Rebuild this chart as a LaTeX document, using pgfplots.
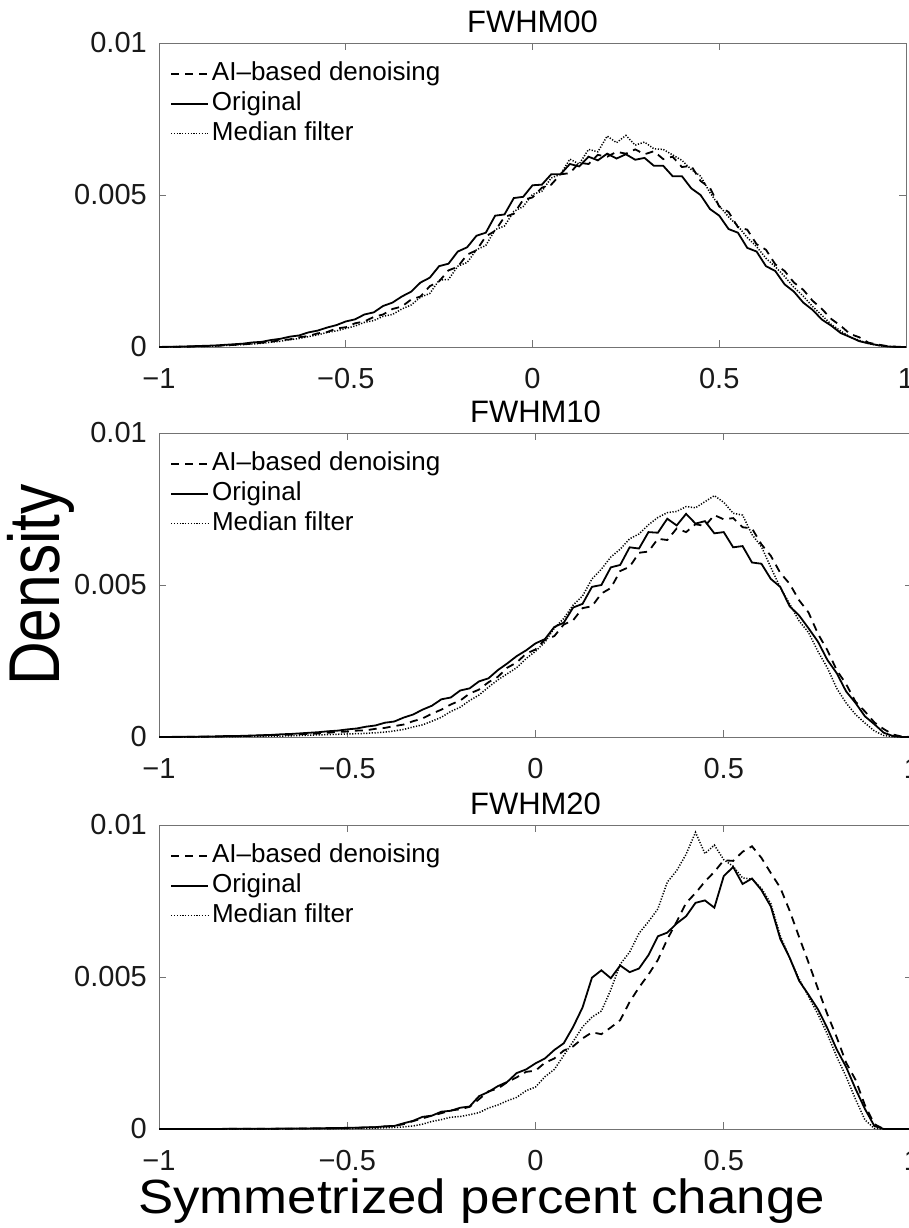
\documentclass[border=0pt]{standalone}
\usepackage{fontspec}
\setmainfont{Liberation Sans}
\usepackage{pgfplots}
\pgfplotsset{compat=1.18}
\usepackage{pgfplotstable}

% densities in units of 1e-3 (tick labels give the real values)
% columns: x, o = Original, a = AI-based denoising, m = Median filter
\pgfplotstableread{
x o a m
-1.000 0.00 0.00 0.00
-0.975 0.01 0.00 0.00
-0.950 0.01 0.01 0.01
-0.925 0.02 0.01 0.01
-0.900 0.03 0.02 0.02
-0.875 0.04 0.03 0.02
-0.850 0.05 0.04 0.03
-0.825 0.07 0.05 0.05
-0.800 0.09 0.07 0.06
-0.775 0.11 0.09 0.08
-0.750 0.15 0.11 0.10
-0.725 0.17 0.14 0.12
-0.700 0.23 0.17 0.16
-0.675 0.27 0.23 0.19
-0.650 0.34 0.25 0.24
-0.625 0.38 0.32 0.28
-0.600 0.48 0.36 0.34
-0.575 0.54 0.45 0.40
-0.550 0.64 0.49 0.48
-0.525 0.72 0.61 0.53
-0.500 0.84 0.65 0.61
-0.475 0.91 0.78 0.69
-0.450 1.07 0.84 0.81
-0.425 1.14 0.99 0.87
-0.400 1.35 1.07 1.01
-0.375 1.46 1.25 1.07
-0.350 1.66 1.33 1.25
-0.325 1.82 1.56 1.38
-0.300 2.12 1.66 1.64
-0.275 2.28 2.00 1.76
-0.250 2.66 2.16 2.20
-0.225 2.74 2.52 2.22
-0.200 3.14 2.64 2.66
-0.175 3.28 3.04 2.78
-0.150 3.66 3.18 3.20
-0.125 3.76 3.64 3.34
-0.100 4.32 3.82 3.86
-0.075 4.36 4.28 3.98
-0.050 4.90 4.38 4.46
-0.025 4.94 4.84 4.62
0.000 5.32 4.92 5.02
0.025 5.34 5.24 5.12
0.050 5.68 5.34 5.56
0.075 5.68 5.68 5.68
0.100 6.02 5.72 6.18
0.125 5.94 6.06 6.02
0.150 6.26 6.02 6.50
0.175 6.14 6.32 6.42
0.200 6.36 6.26 6.94
0.225 6.20 6.42 6.72
0.250 6.34 6.36 6.96
0.275 6.16 6.50 6.64
0.300 6.22 6.34 6.74
0.325 5.96 6.44 6.52
0.350 5.96 6.18 6.50
0.375 5.62 6.26 6.32
0.400 5.62 5.92 6.14
0.425 5.22 5.96 5.84
0.450 5.00 5.46 5.62
0.475 4.54 5.24 5.08
0.500 4.32 4.62 4.64
0.525 3.88 4.44 4.28
0.550 3.76 3.94 3.98
0.575 3.26 3.86 3.60
0.600 3.14 3.38 3.30
0.625 2.66 3.20 2.92
0.650 2.50 2.72 2.64
0.675 2.06 2.50 2.32
0.700 1.82 2.12 1.96
0.725 1.46 1.88 1.67
0.750 1.22 1.52 1.33
0.775 0.90 1.25 1.04
0.800 0.70 0.92 0.74
0.825 0.46 0.70 0.53
0.850 0.33 0.43 0.33
0.875 0.19 0.32 0.22
0.900 0.12 0.14 0.11
0.925 0.06 0.08 0.05
0.950 0.02 0.03 0.02
0.975 0.00 0.01 0.00
1.000 0.00 0.00 0.00
}\fwhmA

\pgfplotstableread{
x o a m
-1.000 0.00 0.00 0.00
-0.975 0.00 0.00 0.00
-0.950 0.01 0.00 0.00
-0.925 0.01 0.01 0.00
-0.900 0.01 0.01 0.00
-0.875 0.02 0.01 0.01
-0.850 0.02 0.02 0.01
-0.825 0.03 0.02 0.01
-0.800 0.03 0.03 0.01
-0.775 0.04 0.03 0.02
-0.750 0.05 0.04 0.02
-0.725 0.06 0.05 0.02
-0.700 0.07 0.06 0.03
-0.675 0.09 0.07 0.03
-0.650 0.10 0.08 0.04
-0.625 0.12 0.09 0.05
-0.600 0.14 0.10 0.06
-0.575 0.16 0.12 0.07
-0.550 0.19 0.14 0.08
-0.525 0.21 0.17 0.09
-0.500 0.25 0.18 0.10
-0.475 0.28 0.21 0.11
-0.450 0.34 0.22 0.12
-0.425 0.38 0.27 0.14
-0.400 0.47 0.30 0.16
-0.375 0.51 0.36 0.20
-0.350 0.64 0.41 0.25
-0.325 0.74 0.52 0.33
-0.300 0.90 0.61 0.40
-0.275 1.03 0.77 0.52
-0.250 1.24 0.90 0.65
-0.225 1.30 1.07 0.84
-0.200 1.53 1.20 0.98
-0.175 1.60 1.43 1.20
-0.150 1.83 1.56 1.38
-0.125 1.93 1.80 1.64
-0.100 2.20 1.98 1.88
-0.075 2.42 2.28 2.08
-0.050 2.66 2.45 2.28
-0.025 2.85 2.74 2.58
0.000 3.08 2.88 2.82
0.025 3.22 3.20 3.12
0.050 3.62 3.32 3.58
0.075 3.76 3.70 3.90
0.100 4.26 3.84 4.34
0.125 4.38 4.24 4.64
0.150 4.94 4.30 5.20
0.175 5.00 4.72 5.52
0.200 5.58 4.90 5.92
0.225 5.66 5.46 6.18
0.250 6.24 5.60 6.52
0.275 6.20 6.06 6.68
0.300 6.74 6.10 6.98
0.325 6.72 6.52 7.22
0.350 7.18 6.48 7.38
0.375 6.96 6.86 7.42
0.400 7.34 6.74 7.58
0.425 7.02 7.00 7.54
0.450 7.10 6.94 7.74
0.475 6.70 7.30 7.94
0.500 6.74 7.16 7.72
0.525 6.24 7.20 7.36
0.550 6.28 6.90 7.30
0.575 5.74 6.86 6.66
0.600 5.70 6.34 6.26
0.625 5.20 5.96 5.58
0.650 4.94 5.40 4.92
0.675 4.30 5.04 4.38
0.700 4.00 4.50 3.82
0.725 3.58 4.10 3.44
0.750 3.14 3.40 2.82
0.775 2.54 2.86 2.28
0.800 2.10 2.20 1.60
0.825 1.50 1.74 1.12
0.850 1.12 1.16 0.74
0.875 0.68 0.84 0.46
0.900 0.42 0.48 0.20
0.925 0.14 0.26 0.05
0.950 0.03 0.08 0.01
0.975 0.00 0.01 0.00
1.000 0.00 0.00 0.00
}\fwhmB

\pgfplotstableread{
x o a m
-1.000 0.00 0.00 0.00
-0.950 0.00 0.00 0.00
-0.900 0.00 0.00 0.00
-0.850 0.00 0.00 0.00
-0.800 0.01 0.01 0.00
-0.750 0.01 0.01 0.00
-0.700 0.01 0.01 0.00
-0.650 0.02 0.01 0.01
-0.600 0.02 0.02 0.01
-0.550 0.03 0.02 0.01
-0.525 0.03 0.03 0.01
-0.500 0.04 0.03 0.01
-0.475 0.04 0.04 0.02
-0.450 0.06 0.05 0.02
-0.425 0.06 0.06 0.03
-0.400 0.09 0.08 0.04
-0.375 0.10 0.10 0.05
-0.350 0.19 0.16 0.07
-0.325 0.27 0.26 0.10
-0.300 0.40 0.35 0.16
-0.275 0.44 0.44 0.25
-0.250 0.57 0.52 0.31
-0.225 0.60 0.61 0.39
-0.200 0.70 0.65 0.41
-0.175 0.74 0.73 0.47
-0.150 1.08 0.98 0.54
-0.125 1.22 1.24 0.69
-0.100 1.41 1.33 0.79
-0.075 1.55 1.54 0.93
-0.050 1.84 1.70 1.04
-0.025 1.96 1.88 1.26
0.000 2.16 1.92 1.38
0.025 2.32 2.18 1.72
0.050 2.60 2.32 1.96
0.075 2.82 2.58 2.42
0.100 3.36 2.72 2.88
0.125 4.00 2.98 3.36
0.150 4.98 3.18 3.68
0.175 5.22 3.12 3.88
0.200 4.96 3.34 4.58
0.225 5.38 3.58 5.42
0.250 5.16 4.18 5.82
0.275 5.28 4.66 6.44
0.300 5.72 5.08 6.82
0.325 6.34 5.56 7.24
0.350 6.46 6.24 8.12
0.375 6.76 6.82 8.50
0.400 7.00 7.44 9.04
0.425 7.44 7.76 9.76
0.450 7.52 8.14 9.06
0.475 7.28 8.46 9.34
0.500 8.32 8.84 8.86
0.525 8.62 8.82 8.64
0.550 8.06 9.12 8.26
0.575 8.24 9.30 8.22
0.600 7.86 8.92 7.92
0.625 7.32 8.42 7.42
0.650 6.26 7.94 6.36
0.675 5.64 7.18 5.62
0.700 4.88 6.32 4.94
0.725 4.42 5.48 4.36
0.750 3.94 4.62 3.78
0.775 3.32 3.78 3.12
0.800 2.62 3.02 2.38
0.825 2.04 2.18 1.72
0.850 1.32 1.62 0.98
0.875 0.66 0.78 0.30
0.900 0.10 0.16 0.02
0.925 0.00 0.00 0.00
0.950 0.00 0.00 0.00
1.000 0.00 0.00 0.00
}\fwhmC

\pgfplotsset{
  panel/.style={
    scale only axis, height=304bp,
    anchor=north west,
    xmin=-1, xmax=1, ymin=0, ymax=10,
    xtick={-1,-0.5,0,0.5,1},
    xticklabels={−1,−0.5,0,0.5,1},
    ytick={0,5,10},
    yticklabels={0,0.005,0.01},
    tick align=inside,
    major tick length=7bp,
    axis line style={black!55, line width=0.9bp},
    every tick/.style={black!55, line width=0.9bp},
    tick label style={font=\fontsize{29bp}{33bp}\selectfont, text=black!90},
    xticklabel style={anchor=base, inner sep=0pt, yshift=-41bp},
    yticklabel style={anchor=east, inner sep=0pt, xshift=-12bp},
    title style={at={(0.5,1)}, anchor=base, yshift=5bp, inner sep=0pt,
      font=\fontsize{31bp}{34bp}\selectfont},
    legend cell align=left,
    legend image code/.code={\draw[##1] (0bp,0bp) -- (37bp,0bp);},
    legend style={draw=none, fill=none, at={(0.0147,0.941)}, anchor=north west,
      inner sep=0pt, row sep=5bp, column sep=3bp,
      font=\fontsize{26bp}{30bp}\selectfont,
      nodes={inner sep=0pt, text height=19bp, text depth=6bp}},
  },
  ai/.style={black, line width=1.8bp, dash pattern=on 8bp off 6bp},
  orig/.style={black, line width=1.8bp},
  med/.style={black, line width=1.5bp, dash pattern=on 1.2bp off 1.6bp},
}

\begin{document}
\begin{tikzpicture}
\useasboundingbox (0,0) rectangle (909bp,-1228bp);

\begin{axis}[panel, width=747bp, at={(159bp,-43bp)}, title={FWHM00}]
\addplot[ai] table[x=x, y=a] {\fwhmA};
\addplot[orig] table[x=x, y=o] {\fwhmA};
\addplot[med] table[x=x, y=m] {\fwhmA};
\legend{AI–based denoising, Original, Median filter}
\end{axis}

\begin{axis}[panel, width=753bp, at={(159bp,-433bp)}, title={FWHM10},
  ylabel={\scalebox{0.84}[1]{Density}},
  ylabel style={at={(axis description cs:-0.157,0.5)}, anchor=center,
    inner sep=0pt, font=\fontsize{72bp}{76bp}\selectfont}]
\addplot[ai] table[x=x, y=a] {\fwhmB};
\addplot[orig] table[x=x, y=o] {\fwhmB};
\addplot[med] table[x=x, y=m] {\fwhmB};
\legend{AI–based denoising, Original, Median filter}
\end{axis}

\begin{axis}[panel, width=753bp, at={(159bp,-825bp)}, title={FWHM20},
  xlabel={\scalebox{1.1}[1]{Symmetrized percent change}},
  xlabel style={at={(axis description cs:0.5,0)}, anchor=base,
    xshift=-54bp, yshift=-84bp, inner sep=0pt,
    font=\fontsize{48bp}{52bp}\selectfont}]
\addplot[ai] table[x=x, y=a] {\fwhmC};
\addplot[orig] table[x=x, y=o] {\fwhmC};
\addplot[med] table[x=x, y=m] {\fwhmC};
\legend{AI–based denoising, Original, Median filter}
\end{axis}
\end{tikzpicture}
\end{document}
